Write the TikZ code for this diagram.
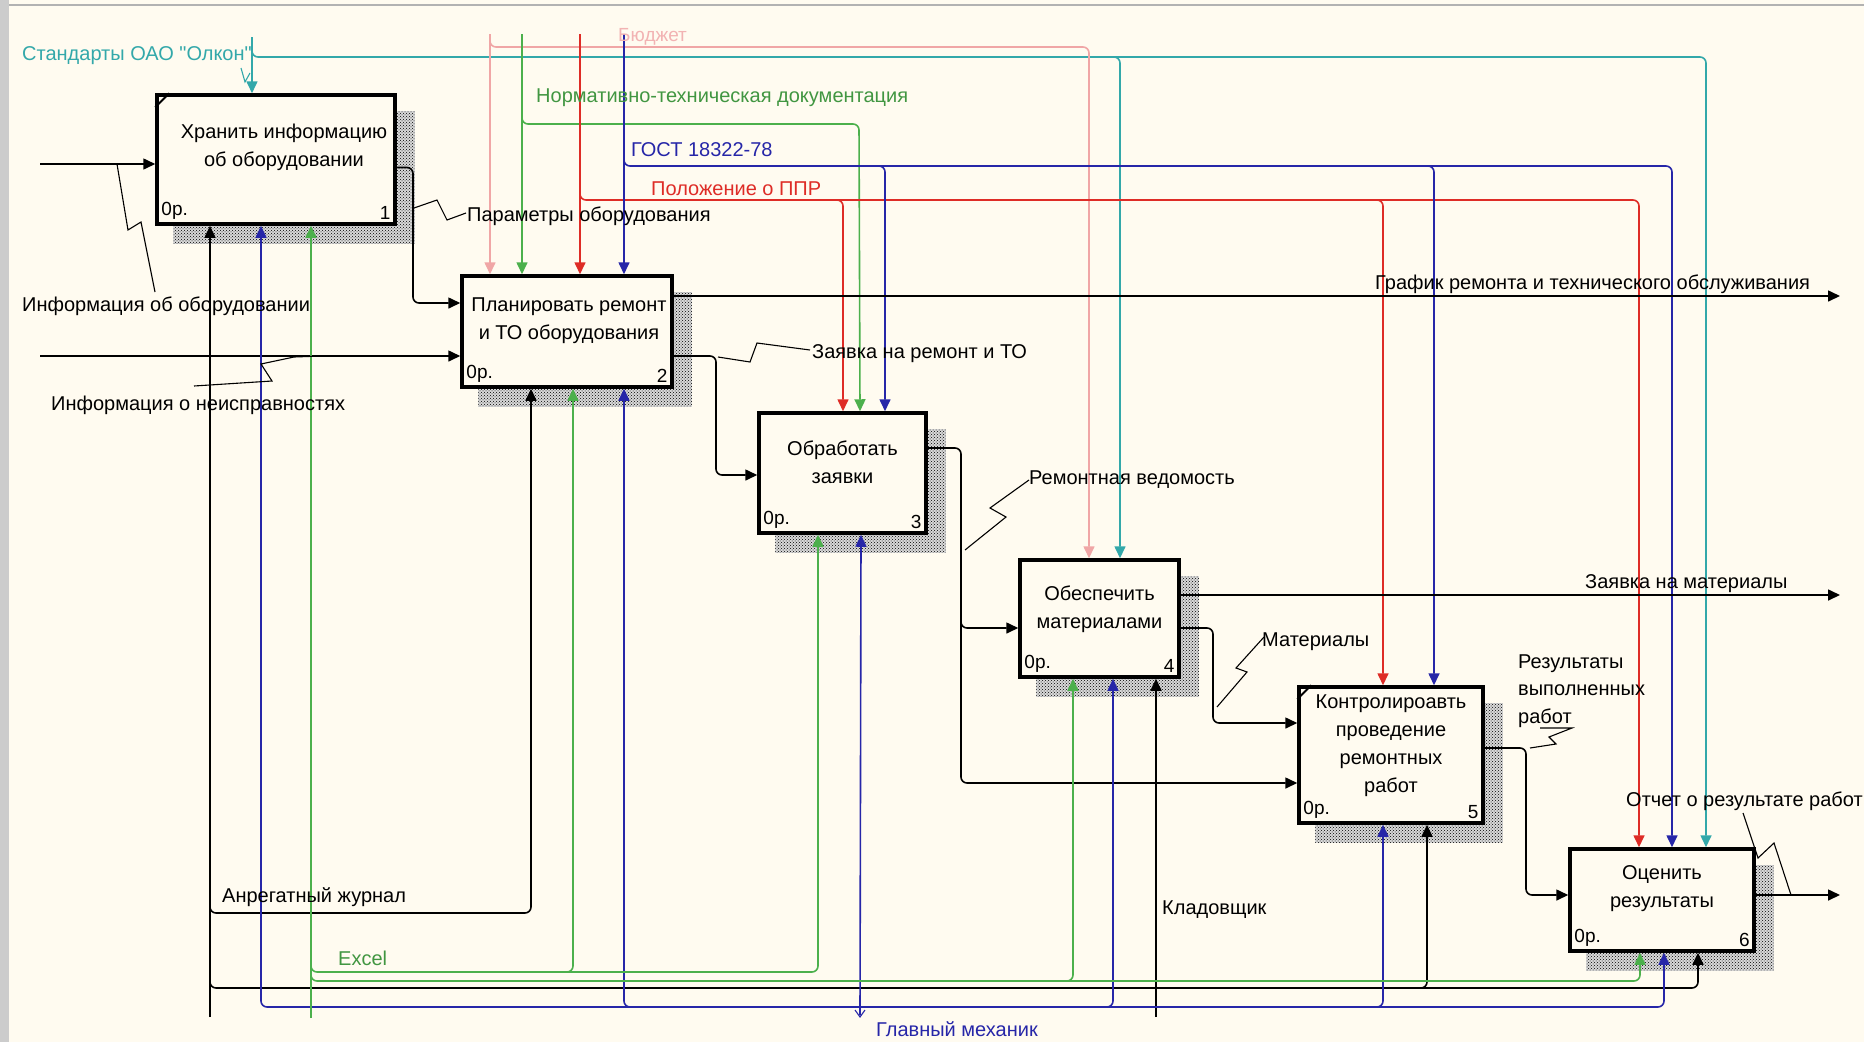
\documentclass[tikz,border=0pt]{standalone}
\usepackage{fontspec}
\setmainfont{Liberation Sans}
\newfontfamily\plainfont{Liberation Sans}
\usetikzlibrary{arrows.meta,patterns,backgrounds}
\definecolor{paper}{HTML}{FFFBF0}
\definecolor{cyanC}{HTML}{33A8AA}
\definecolor{pinkC}{HTML}{F0A6A6}
\definecolor{greenC}{HTML}{4CB04C}
\definecolor{redC}{HTML}{DE2C26}
\definecolor{blueC}{HTML}{2626A8}
\begin{document}
\begin{tikzpicture}[x=1pt,y=-1pt,
  conn/.style={line width=1.6pt,-{Triangle[length=12pt,width=11pt]}},
  rc/.style={rounded corners=6pt},
  cyl/.style={conn,draw=cyanC},
  pkl/.style={conn,draw=pinkC},
  gnl/.style={conn,draw=greenC},
  rdl/.style={conn,draw=redC},
  bul/.style={conn,draw=blueC},
  bkl/.style={conn,draw=black},
  leader/.style={line width=1.1pt,draw=black},
  actbox/.style={draw=black,line width=3.5pt,fill=paper,inner sep=0pt},
  boxtext/.style={font=\fontsize{20}{28}\selectfont,align=center,inner sep=0pt},
  lbl/.style={font=\fontsize{20}{24}\selectfont,inner sep=0pt,anchor=west},
  cost/.style={font=\fontsize{19}{22}\selectfont,inner sep=0pt},
  shadow/.style={pattern=crosshatch dots,pattern color=black}]

\useasboundingbox (0,0) rectangle (1864,1042);

% activity boxes
\node[actbox,minimum width=238pt,minimum height=129pt] (b1) at (276,159.5) {};
\node[actbox,minimum width=210pt,minimum height=111pt] (b2) at (567,331.5) {};
\node[actbox,minimum width=167pt,minimum height=120pt] (b3) at (842.5,473) {};
\node[actbox,minimum width=159pt,minimum height=117pt] (b4) at (1099.5,618.5) {};
\node[actbox,minimum width=184pt,minimum height=136pt] (b5) at (1391,755) {};
\node[actbox,minimum width=184pt,minimum height=102pt] (b6) at (1662,900) {};

% page and box shadows
\begin{scope}[on background layer]
\fill[paper] (0,0) rectangle (1864,1042);
\fill[gray!40] (0,0) rectangle (9,1042);
\draw[gray!60,line width=2pt] (9,5) -- (1864,5);
\foreach \b in {b1,b2,b3,b4,b5,b6}{
  \fill[black!15] ([shift={(18pt,-18pt)}]\b.south west) rectangle ([shift={(18pt,-18pt)}]\b.north east);
  \fill[shadow] ([shift={(18pt,-18pt)}]\b.south west) rectangle ([shift={(18pt,-18pt)}]\b.north east);
}
\end{scope}

\node[boxtext] (t1) at ([shift={(8pt,12.5pt)}]b1.center) {Хранить информацию\\об оборудовании};
\node[boxtext] (t2) at ([shift={(2pt,11pt)}]b2.center) {Планировать ремонт\\и ТО оборудования};
\node[boxtext] (t3) at ([yshift=10.5pt]b3.center) {Обработать\\заявки};
\node[boxtext] (t4) at ([yshift=9.5pt]b4.center) {Обеспечить\\материалами};
\node[boxtext] (t5) at ([yshift=9pt]b5.center) {Контролироавть\\проведение\\ремонтных\\работ};
\node[boxtext] (t6) at ([yshift=11pt]b6.center) {Оценить\\результаты};

\foreach \b/\n in {b1/1,b2/2,b3/3,b4/4,b5/5,b6/6}{
  \node[cost,anchor=south west] (\b cost) at ([shift={(6pt,6pt)}]\b.south west) {0р.};
  \node[cost,anchor=south east] (\b num) at ([shift={(-6pt,6pt)}]\b.south east) {\n};
}
\draw[line width=2pt] ([yshift=-14pt]b1.north west) -- ([xshift=14pt]b1.north west);
\draw[line width=2pt] ([yshift=-14pt]b5.north west) -- ([xshift=14pt]b5.north west);

% boundary ends
\coordinate (cyTop) at (252,37);
\coordinate (pkTop) at (490,34);
\coordinate (gnTop) at (522,34);
\coordinate (rdTop) at (580,34);
\coordinate (buTop) at (624,34);
\coordinate (in1) at (40,164);
\coordinate (in2) at (40,356);
\coordinate (out1) at (1840,296);
\coordinate (out2) at (1840,595);
\coordinate (out3) at (1840,895);
\coordinate (bkBot) at (210,1017);
\coordinate (xlBot) at (311,1018);
\coordinate (gmBot) at (860,1015);
\coordinate (klBot) at (1156,1017);

% controls
\draw[cyl] (cyTop) -- ([xshift=-24pt]b1.north);
\draw[cyl,rc] (252,44) |- (1706,57) -- ([xshift=44pt]b6.north);
\draw[cyl,rc] (1095,57) -| ([xshift=20.5pt]b4.north);

\draw[pkl] (pkTop) -- ([xshift=-77pt]b2.north);
\draw[pkl,rc] (490,36) |- (1089,47) -- ([xshift=-10.5pt]b4.north);

\draw[gnl] (gnTop) -- ([xshift=-45pt]b2.north);
\draw[gnl,rc] (522,110) |- (859,124) -- ([xshift=17.5pt]b3.north);

\draw[rdl] (rdTop) -- ([xshift=13pt]b2.north);
\draw[rdl,rc] (580,186) |- (1639,200) -- ([xshift=-23pt]b6.north);
\draw[rdl,rc] (820,200) -| ([xshift=0.5pt]b3.north);
\draw[rdl,rc] (1360,200) -| ([xshift=-8pt]b5.north);

\draw[bul] (buTop) -- ([xshift=57pt]b2.north);
\draw[bul,rc] (624,152) |- (1672,166) -- ([xshift=10pt]b6.north);
\draw[bul,rc] (860,166) -| ([xshift=42.5pt]b3.north);
\draw[bul,rc] (1410,166) -| ([xshift=43pt]b5.north);

% inputs and outputs
\draw[bkl] (in1) -- ([yshift=-4.5pt]b1.west);
\draw[bkl] (in2) -- ([yshift=-24.5pt]b2.west);
\draw[bkl,rc] ([yshift=-8pt]b1.east) -| (413,250) |- ([yshift=28.5pt]b2.west);
\draw[bkl] ([yshift=35.5pt]b2.east) -- (out1);
\draw[bkl,rc] ([yshift=-24.5pt]b2.east) -| (716,420) |- ([yshift=-2pt]b3.west);
\draw[bkl,rc] ([yshift=25pt]b3.east) -| (961,700) |- ([yshift=-28pt]b5.west);
\draw[bkl,rc] (961,610) |- ([yshift=-9.5pt]b4.west);
\draw[bkl] ([yshift=23.5pt]b4.east) -- (out2);
\draw[bkl,rc] ([yshift=-9.5pt]b4.east) -| (1213,700) |- ([yshift=32pt]b5.west);
\draw[bkl,rc] ([yshift=7pt]b5.east) -| (1526,850) |- ([yshift=5pt]b6.west);
\draw[bkl] ([yshift=5pt]b6.east) -- (out3);

% mechanisms
\draw[bkl] (bkBot) -- ([xshift=-66pt]b1.south);
\draw[bkl,rc] (210,900) |- (531,913) -- ([xshift=-36pt]b2.south);
\draw[bkl,rc] (210,975) |- (1698,988) -- ([xshift=36pt]b6.south);
\draw[bkl,rc] (1400,988) -| ([xshift=36pt]b5.south);
\draw[bkl] (klBot) -- ([xshift=56.5pt]b4.south);

\draw[bul] (gmBot) -- ([xshift=18.5pt]b3.south);
\draw[bul,rc] (860,1007) -| ([xshift=-15pt]b1.south);
\draw[bul,rc] (860,1007) -| ([xshift=2pt]b6.south);
\draw[bul,rc] (650,1007) -| ([xshift=57pt]b2.south);
\draw[bul,rc] (1085,1007) -| ([xshift=13.5pt]b4.south);
\draw[bul,rc] (1355,1007) -| ([xshift=-8pt]b5.south);

\draw[gnl] (xlBot) -- ([xshift=35pt]b1.south);
\draw[gnl,rc] (311,958) |- (818,972) -- ([xshift=-24.5pt]b3.south);
\draw[gnl,rc] (545,972) -| ([xshift=6pt]b2.south);
\draw[gnl,rc] (311,967) |- (1640,981) -- ([xshift=-22pt]b6.south);
\draw[gnl,rc] (1045,981) -| ([xshift=-26.5pt]b4.south);

% arrow labels
\node[lbl,text=cyanC] (lStd) at (22,56) {\plainfont Стандарты ОАО "Олкон"};
\node[lbl,text=pinkC!85,font=\fontsize{19}{22}\selectfont] (lBud) at (618,37) {Бюджет};
\node[lbl,text=greenC!85!black] (lNtd) at (536,98) {Нормативно-техническая документация};
\node[lbl,text=blueC] (lGost) at (631,150) {ГОСТ 18322-78};
\node[lbl,text=redC] (lPpr) at (651,189) {Положение о ППР};
\node[lbl] (lPar) at (467,216) {Параметры оборудования};
\node[lbl] (lInf1) at (22,306) {Информация об оборудовании};
\node[lbl] (lInf2) at (51,405) {Информация о неисправностях};
\node[lbl] (lGraf) at (1375,284) {График ремонта и технического обслуживания};
\node[lbl] (lZr) at (812,354) {Заявка на ремонт и ТО};
\node[lbl] (lVed) at (1029,480) {Ремонтная ведомость};
\node[lbl] (lZm) at (1585,584) {Заявка на материалы};
\node[lbl] (lMat) at (1262,642) {Материалы};
\node[lbl,align=left,font=\fontsize{20}{27.5}\selectfont] (lRes) at (1518,691) {Результаты\\выполненных\\работ};
\node[lbl] (lOtch) at (1626,801) {Отчет о результате работ};
\node[lbl] (lAgr) at (222,897) {Анрегатный журнал};
\node[lbl,text=greenC!85!black] (lXl) at (338,958) {Excel};
\node[lbl] (lKl) at (1162,910) {Кладовщик};
\node[lbl,text=blueC] (lGm) at (876,1029) {Главный механик};

% label leaders
\draw[leader,draw=cyanC] (241,68) -- (245,82) -- (250,73);
\draw[leader] (117,164) -- (128,230) -- (141,222) -- (155,292);
\draw[leader] (414,208) -- (437,200) -- (447,220) -- (466,213);
\draw[leader] (322,356) -- (294,357) -- (261,364) -- (272,381) -- (194,386);
\draw[leader] (718,357) -- (750,362) -- (757,343) -- (810,350);
\draw[leader] (965,550) -- (1006,517) -- (990,508) -- (1029,480);
\draw[leader] (1217,707) -- (1247,672) -- (1236,668) -- (1264,637);
\draw[leader] (1530,748) -- (1556,744) -- (1549,737) -- (1572,728) -- (1540,728);
\draw[leader] (1791,895) -- (1774,843) -- (1758,858) -- (1743,813);
\draw[leader,draw=blueC] (855,1010) -- (860,1017) -- (865,1010);

\end{tikzpicture}
\end{document}
